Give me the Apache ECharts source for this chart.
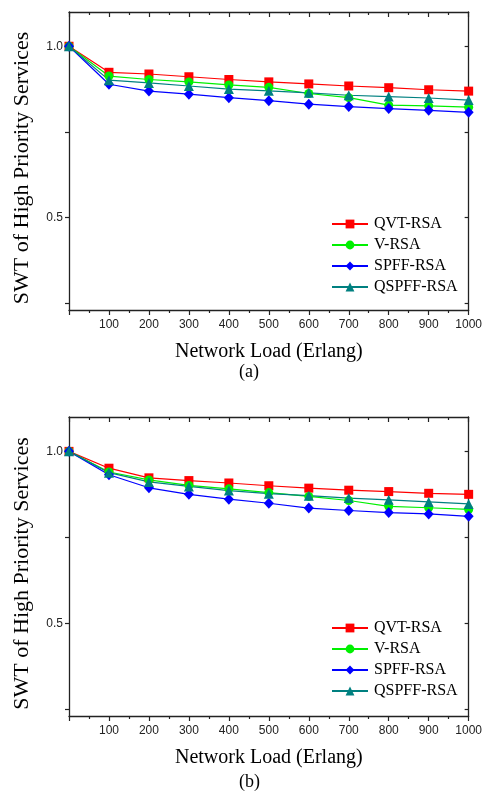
<!DOCTYPE html>
<html>
<head>
<meta charset="utf-8">
<script src="https://cdn.jsdelivr.net/npm/echarts@6/dist/echarts.min.js"></script>
<style>
html, body { margin: 0; padding: 0; background: #fff; }
#chart { width: 485px; height: 797px; }
</style>
</head>
<body>
<div id="chart"></div>
<script>
var loads = [0, 100, 200, 300, 400, 500, 600, 700, 800, 900, 1000];
var names = ['QVT-RSA', 'V-RSA', 'SPFF-RSA', 'QSPFF-RSA'];

// (a)
var qvtA   = [1.0, 0.924, 0.919, 0.911, 0.903, 0.896, 0.890, 0.884, 0.879, 0.873, 0.869];
var vA     = [1.0, 0.913, 0.903, 0.896, 0.887, 0.880, 0.862, 0.850, 0.828, 0.826, 0.822];
var spffA  = [1.0, 0.889, 0.869, 0.860, 0.850, 0.841, 0.831, 0.824, 0.818, 0.813, 0.807];
var qspffA = [1.0, 0.901, 0.893, 0.884, 0.875, 0.870, 0.864, 0.857, 0.853, 0.849, 0.843];

// (b)
var qvtB   = [1.0, 0.951, 0.923, 0.915, 0.908, 0.900, 0.893, 0.887, 0.883, 0.878, 0.875];
var vB     = [1.0, 0.940, 0.917, 0.901, 0.891, 0.880, 0.869, 0.857, 0.840, 0.836, 0.831];
var spffB  = [1.0, 0.932, 0.894, 0.875, 0.861, 0.849, 0.835, 0.828, 0.822, 0.818, 0.811];
var qspffB = [1.0, 0.938, 0.911, 0.898, 0.886, 0.877, 0.871, 0.864, 0.859, 0.853, 0.847];

var yTicks = [0.25, 0.5, 0.75, 1.0];
var yLabels = [0.5, 1.0];

var colors = ['#ff0000', '#00f000', '#0000ff', '#008080'];
var symbols = ['rect', 'circle', 'diamond', 'triangle'];
var symbolSizes = [9, 9, [10, 11], [10, 10]];

var serif = '"Liberation Serif", "Times New Roman", serif';
var sans = '"Liberation Sans", Arial, sans-serif';

function pairs(arr) {
  return loads.map(function (x, i) { return [x, arr[i]]; });
}

function xAx(grid, top) {
  return {
    type: 'value',
    gridIndex: grid,
    position: top ? 'top' : 'bottom',
    min: 0,
    max: 1000,
    interval: 100,
    name: top ? '' : 'Network Load (Erlang)',
    nameLocation: 'middle',
    nameGap: 32,
    nameTextStyle: { fontFamily: serif, fontSize: 20, color: '#000' },
    axisLine: { show: true, onZero: false, lineStyle: { color: '#222', width: 1.3 } },
    axisTick: { show: true, inside: top, length: 5, lineStyle: { color: '#222', width: 1.2 } },
    minorTick: { show: true, splitNumber: 2, length: 3, lineStyle: { color: '#222', width: 1.2 } },
    axisLabel: {
      show: !top,
      margin: 9,
      fontFamily: sans,
      fontSize: 12,
      color: '#222',
      formatter: function (v) { return v === 0 ? '' : v; }
    },
    splitLine: { show: false }
  };
}

function yAx(grid, right) {
  return {
    type: 'value',
    gridIndex: grid,
    position: right ? 'right' : 'left',
    min: 0.23,
    max: 1.1,
    name: right ? '' : 'SWT of High Priority Services',
    nameLocation: 'middle',
    nameGap: 36,
    nameTextStyle: { fontFamily: serif, fontSize: 22, color: '#000', padding: [0, 14, 0, 0] },
    axisLine: { show: true, onZero: false, lineStyle: { color: '#222', width: 1.3 } },
    axisTick: { show: true, inside: right, length: 4, customValues: yTicks, lineStyle: { color: '#222', width: 1.2 } },
    axisLabel: {
      show: !right,
      margin: 6,
      fontFamily: sans,
      fontSize: 12,
      color: '#222',
      customValues: yLabels,
      formatter: function (v) { return v.toFixed(1); }
    },
    splitLine: { show: false }
  };
}

function makeSeries(sets, xi, yi) {
  return sets.map(function (arr, k) {
    return {
      name: names[k],
      type: 'line',
      xAxisIndex: xi,
      yAxisIndex: yi,
      data: pairs(arr),
      symbol: symbols[k],
      symbolSize: symbolSizes[k],
      showAllSymbol: true,
      itemStyle: { color: colors[k] },
      lineStyle: { color: colors[k], width: 1.2 },
      emphasis: { disabled: true },
      animation: false
    };
  });
}

function legend(top) {
  return {
    orient: 'vertical',
    left: 331,
    top: top,
    itemWidth: 36,
    itemHeight: 11,
    itemGap: 5,
    data: names,
    textStyle: { fontFamily: serif, fontSize: 16, color: '#000', padding: [0, 0, 0, 1] },
    padding: 0
  };
}

var chart = echarts.init(document.getElementById('chart'));

var option = {
  backgroundColor: '#fff',
  animation: false,
  title: [
    { text: '(a)', left: 239, top: 363, padding: 0, textStyle: { fontFamily: serif, fontSize: 18, fontWeight: 'normal', color: '#000' } },
    { text: '(b)', left: 239, top: 773, padding: 0, textStyle: { fontFamily: serif, fontSize: 18, fontWeight: 'normal', color: '#000' } }
  ],
  grid: [
    { left: 69, top: 12, width: 402, height: 298, containLabel: false },
    { left: 69, top: 417, width: 402, height: 299, containLabel: false }
  ],
  legend: [legend(216), legend(620)],
  xAxis: [xAx(0, false), xAx(0, true), xAx(1, false), xAx(1, true)],
  yAxis: [yAx(0, false), yAx(0, true), yAx(1, false), yAx(1, true)],
  series: makeSeries([qvtA, vA, spffA, qspffA], 0, 0)
    .concat(makeSeries([qvtB, vB, spffB, qspffB], 2, 2))
};

chart.setOption(option);
</script>
</body>
</html>
